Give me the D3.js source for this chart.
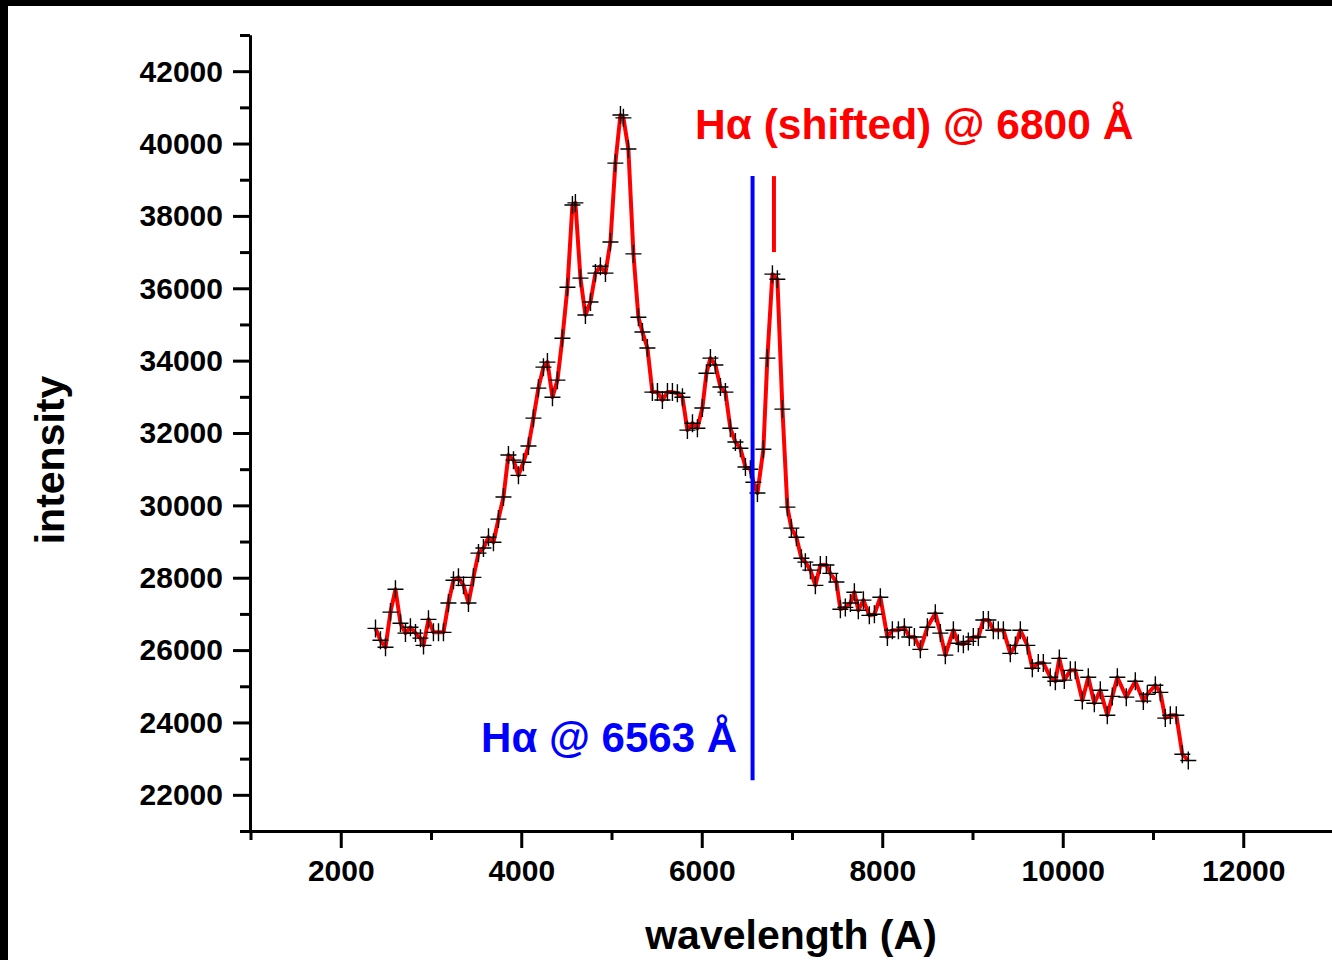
<!DOCTYPE html>
<html>
<head>
<meta charset="utf-8">
<script src="https://cdn.jsdelivr.net/npm/d3@7"></script>
<style>
  body { margin: 0; background: #fff; }
  svg { display: block; font-family: "Liberation Sans", Arial, sans-serif; }
  .axis text { font-size: 30px; font-weight: bold; fill: #000; }
  .axis line, .axis path { stroke: #000; stroke-width: 3; }
</style>
</head>
<body>
<svg id="chart" width="1332" height="960"></svg>
<script>
// spectrum
const wavelength = [
  2385, 2440, 2496, 2551, 2606, 2662, 2717, 2772, 2828, 2883, 2917, 2972, 3027, 3083, 3138,
  3193, 3249, 3304, 3360, 3415, 3470, 3526, 3581, 3637, 3692, 3747, 3803, 3858, 3914, 3969,
  4024, 4080, 4135, 4190, 4246, 4290, 4346, 4401, 4456, 4512, 4567, 4600, 4656, 4711, 4767,
  4822, 4877, 4933, 4988, 5043, 5099, 5132, 5187, 5243, 5298, 5343, 5398, 5453, 5509, 5564,
  5620, 5675, 5730, 5786, 5841, 5897, 5952, 6007, 6052, 6096, 6151, 6207, 6262, 6317, 6373,
  6428, 6484, 6539, 6572, 6617, 6683, 6727, 6783, 6838, 6894, 6949, 6993, 7049, 7104, 7148,
  7204, 7259, 7314, 7381, 7425, 7492, 7536, 7591, 7647, 7691, 7735, 7791, 7857, 7913, 7979,
  8057, 8112, 8179, 8245, 8300, 8356, 8422, 8500, 8588, 8644, 8699, 8788, 8843, 8899, 8954,
  9009, 9065, 9120, 9176, 9231, 9286, 9342, 9419, 9475, 9530, 9608, 9663, 9729, 9785, 9862,
  9918, 9962, 10017, 10084, 10139, 10217, 10283, 10350, 10416, 10494, 10549, 10605, 10704, 10804, 10893,
  10937, 11026, 11081, 11136, 11192, 11258, 11325, 11391
];
const intensity = [
  26600, 26270, 26080, 27050, 27680, 26740, 26470, 26630, 26470, 26330, 26130, 26850, 26490, 26490, 26490,
  27300, 27930, 28010, 27790, 27300, 28010, 28680, 28820, 29120, 28980, 29620, 30230, 31390, 31250, 30830,
  31190, 31640, 32410, 33240, 33820, 33960, 32990, 33460, 34620, 36030, 38300, 38360, 36280, 35260, 35620,
  36420, 36610, 36420, 37280, 39460, 40790, 40710, 39850, 36950, 35200, 34790, 34350, 33130, 33130, 32910,
  33130, 33130, 33100, 32990, 32080, 32270, 32130, 32690, 33650, 34070, 33880, 33270, 33130, 32130, 31750,
  31580, 31060, 31000, 30640, 30340, 31550, 34070, 36390, 36250, 32660, 29950, 29370, 29120, 28540, 28430,
  28210, 27790, 28350, 28350, 28120, 27880, 27130, 27180, 27300, 27600, 27100, 27380, 26960, 26990, 27460,
  26360, 26550, 26550, 26630, 26360, 26360, 26020, 26630, 27020, 26470, 25860, 26550, 26190, 26160, 26240,
  26360, 26360, 26830, 26830, 26550, 26550, 26550, 25910, 26130, 26550, 26130, 25500, 25640, 25640, 25250,
  25140, 25770, 25170, 25440, 25440, 24610, 25250, 24530, 24890, 24200, 24720, 25250, 24700, 25140, 24590,
  24780, 25030, 24830, 24120, 24200, 24200, 23120, 22950
];

const xMajor = [2000, 4000, 6000, 8000, 10000, 12000];
const xMinor = [1000, 3000, 5000, 7000, 9000, 11000, 13000];
const yMajor = [22000, 24000, 26000, 28000, 30000, 32000, 34000, 36000, 38000, 40000, 42000];
const yMinor = [21000, 23000, 25000, 27000, 29000, 31000, 33000, 35000, 37000, 39000, 41000, 43000];

// H-alpha markers: [wavelength, low, high]
const haRest = [6563, 22400, 39100];
const haShifted = [6800, 37000, 39100];

const svg = d3.select("#chart");

const x = d3.scaleLinear().domain([1000, 13000]).range([250.5, 1333.5]);
const y = d3.scaleLinear().domain([21000, 43000]).range([831, 35]);

// black frame edges
svg.append("rect").attr("x", 0).attr("y", 0).attr("width", 1332).attr("height", 6).attr("fill", "#000");
svg.append("rect").attr("x", 0).attr("y", 0).attr("width", 8).attr("height", 960).attr("fill", "#000");

// axes
svg.append("g").attr("class", "axis")
  .attr("transform", "translate(250,0)")
  .call(d3.axisLeft(y).tickValues(yMinor).tickSize(10).tickSizeOuter(0).tickFormat(""));
svg.append("g").attr("class", "axis")
  .attr("transform", "translate(250,0)")
  .call(d3.axisLeft(y).tickValues(yMajor).tickSize(17).tickSizeOuter(0).tickPadding(10).tickFormat(d3.format("d")))
  .call(g => g.selectAll("text").attr("dy", "0.33em"));

svg.append("g").attr("class", "axis")
  .attr("transform", "translate(0,831)")
  .call(d3.axisBottom(x).tickValues(xMinor).tickSize(9).tickSizeOuter(0).tickFormat(""));
svg.append("g").attr("class", "axis")
  .attr("transform", "translate(0,831)")
  .call(d3.axisBottom(x).tickValues(xMajor).tickSize(17).tickSizeOuter(0).tickPadding(12).tickFormat(d3.format("d")));

// axis titles
svg.append("text")
  .attr("transform", "translate(64,460) rotate(-90)")
  .attr("text-anchor", "middle")
  .attr("font-size", 41).attr("font-weight", "bold")
  .text("intensity");

svg.append("text")
  .attr("x", 791).attr("y", 949)
  .attr("text-anchor", "middle")
  .attr("font-size", 41).attr("font-weight", "bold")
  .text("wavelength (A)");

// spectrum line
const pts = wavelength.map((w, i) => [w, intensity[i]]);
svg.append("path")
  .datum(pts)
  .attr("fill", "none")
  .attr("stroke", "#ff0000")
  .attr("stroke-width", 4)
  .attr("stroke-linejoin", "round")
  .attr("d", d3.line().x(d => x(d[0])).y(d => y(d[1])));

// cross markers
svg.append("g").selectAll("path")
  .data(pts)
  .enter()
  .append("path")
  .attr("transform", d => `translate(${x(d[0])},${y(d[1])})`)
  .attr("d", "M-8,0H8M0,-9V9")
  .attr("stroke", "#000")
  .attr("stroke-width", 1.4);

// H-alpha lines
svg.append("line")
  .attr("x1", x(haRest[0])).attr("x2", x(haRest[0]))
  .attr("y1", y(haRest[1])).attr("y2", y(haRest[2]))
  .attr("stroke", "#0000ff").attr("stroke-width", 4);

svg.append("line")
  .attr("x1", x(haShifted[0])).attr("x2", x(haShifted[0]))
  .attr("y1", y(haShifted[1])).attr("y2", y(haShifted[2]))
  .attr("stroke", "#ff0000").attr("stroke-width", 4);

svg.append("text")
  .attr("x", 695).attr("y", 139)
  .attr("font-size", 42.5).attr("font-weight", "bold")
  .attr("fill", "#ff0000")
  .text("Hα (shifted) @ 6800 Å");

svg.append("text")
  .attr("x", 737).attr("y", 752)
  .attr("text-anchor", "end")
  .attr("font-size", 42).attr("font-weight", "bold")
  .attr("fill", "#0000ff")
  .text("Hα @ 6563 Å");
</script>
</body>
</html>
